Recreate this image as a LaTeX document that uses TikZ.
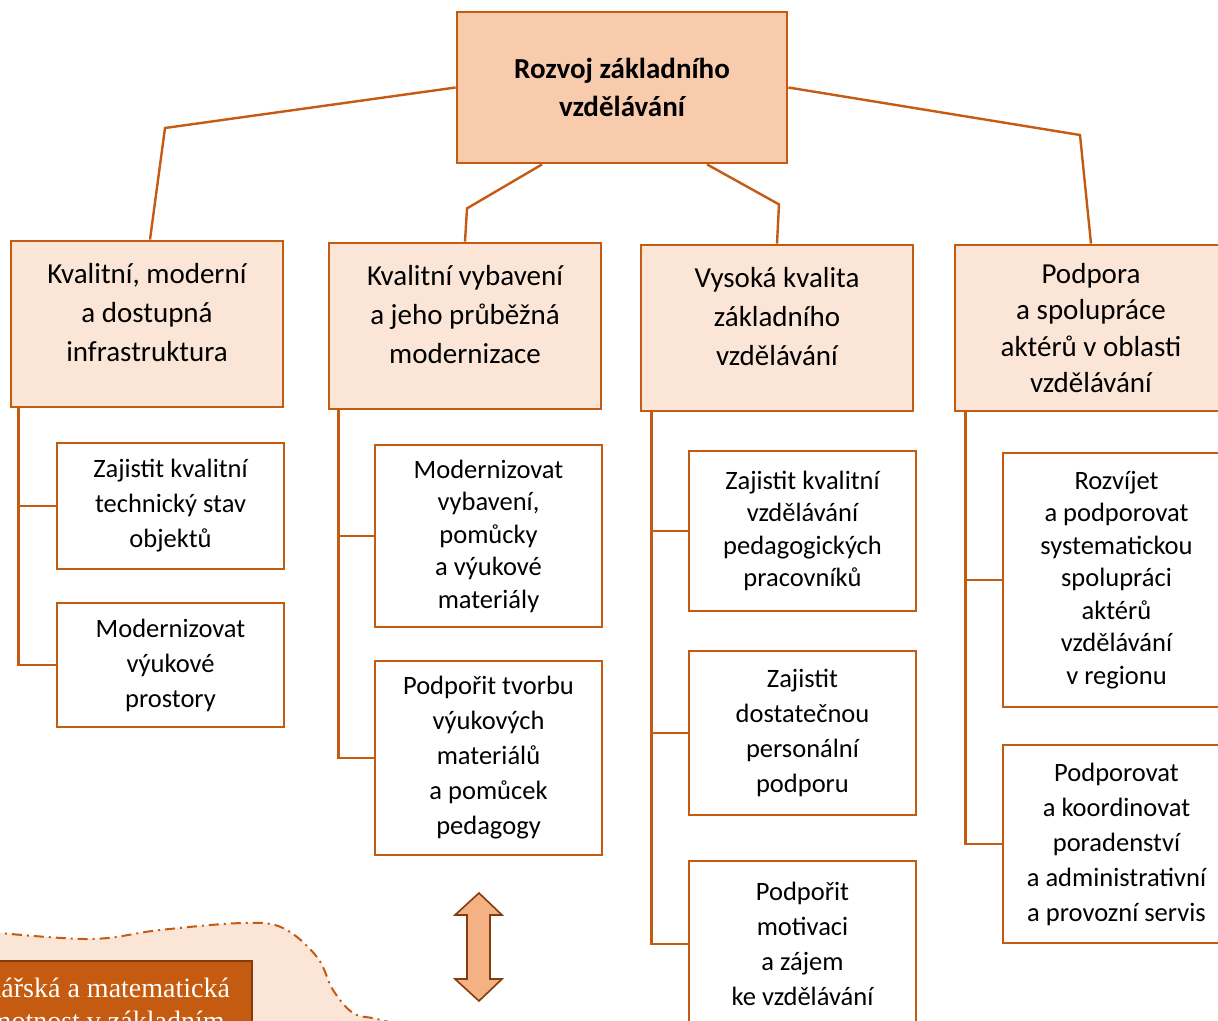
\documentclass[tikz,border=0pt]{standalone}
\usepackage{fontspec}
\setmainfont{Carlito}
\newfontfamily\goalfont{Liberation Serif}
\usetikzlibrary{positioning}
\definecolor{accent}{HTML}{C55A11}
\definecolor{rootc}{HTML}{F8CBAD}
\definecolor{topicc}{HTML}{FBE5D6}
\definecolor{arrowc}{HTML}{F4B183}
\definecolor{darkc}{HTML}{843C0C}

\begin{document}
\begin{tikzpicture}[x=1pt, y=-1pt,
  rootbox/.style={draw=accent, line width=2.8pt, fill=rootc, minimum width=330pt,
                  minimum height=151pt, align=center, font=\bfseries\fontsize{29}{38}\selectfont},
  topic/.style={draw=accent, line width=2.8pt, fill=topicc, minimum width=272pt,
                minimum height=166pt, align=center, font=\fontsize{29}{39}\selectfont},
  task/.style={draw=accent, line width=2.8pt, fill=white, minimum width=227pt,
               align=center, font=\fontsize{26.5}{35}\selectfont},
  tight/.style={font=\fontsize{26.5}{32.5}\selectfont},
  link/.style={draw=accent, line width=2.4pt},
  goalbox/.style={draw=darkc, line width=2pt, fill=accent, text=white, align=center,
                  font=\goalfont\fontsize{28}{33}\selectfont, inner xsep=22pt, inner ysep=12pt}
]
\useasboundingbox (0,0) rectangle (1218,1020);
\clip (0,0) rectangle (1218,1020);

% cloud behind the goal box
\filldraw[fill=topicc, draw=accent, line width=2pt, dash pattern=on 10pt off 5pt on 2pt off 5pt]
  plot[smooth, tension=0.6] coordinates {(-10,932) (90,939) (160,930) (243,923) (283,928)
    (317,957) (333,990) (353,1013) (377,1019) (420,1030)} -- (420,1070) -- (-10,1070) -- cycle;
\node[goalbox, anchor=north east] (gramot) at (253,960)
  {Čtenářská a matematická\\gramotnost v základním\\vzdělávání};

% double arrow
\draw[draw=darkc, fill=arrowc, line width=1.6pt] (479,893) -- (502,915) -- (490,915) -- (490,979)
  -- (502,979) -- (479,1001) -- (455,979) -- (467,979) -- (467,915) -- (455,915) -- cycle;

\node[rootbox] (root) at (622,87.5) {Rozvoj základního\\vzdělávání};

\node[topic] (infra) at (147,324) {Kvalitní, moderní\\a dostupná\\infrastruktura\\[-16pt]\mbox{}};
\node[topic] (vybav) at (465,326) {Kvalitní vybavení\\a jeho průběžná\\modernizace\\[-16pt]\mbox{}};
\node[topic] (kvalita) at (777,328) {Vysoká kvalita\\základního\\vzdělávání\\[-16pt]\mbox{}};
\node[topic, font=\fontsize{29}{36.5}\selectfont] (podpora) at (1091,328)
  {Podpora\\a spolupráce\\aktérů v oblasti\\vzdělávání};

\node[task, minimum height=126pt] (infra1) at (170.5,506) {Zajistit kvalitní\\technický stav\\objektů};
\node[task, minimum height=124pt] (infra2) at (170.5,665) {Modernizovat\\výukové\\prostory};

\node[task, tight, minimum height=182pt] (vybav1) at (488.5,536)
  {Modernizovat\\vybavení,\\pomůcky\\a výukové\\materiály};
\node[task, minimum height=194pt] (vybav2) at (488.5,758)
  {Podpořit tvorbu\\výukových\\materiálů\\a pomůcek\\pedagogy};

\node[task, tight, minimum height=160pt] (kvalita1) at (802.5,531)
  {Zajistit kvalitní\\vzdělávání\\pedagogických\\pracovníků};
\node[task, minimum height=164pt] (kvalita2) at (802.5,733)
  {Zajistit\\dostatečnou\\personální\\podporu};
\node[task, minimum height=166pt] (kvalita3) at (802.5,944)
  {Podpořit\\motivaci\\a zájem\\ke vzdělávání};

\node[task, tight, minimum height=254pt] (podpora1) at (1116.5,580)
  {Rozvíjet\\a podporovat\\systematickou\\spolupráci\\aktérů\\vzdělávání\\v regionu};
\node[task, minimum height=198pt] (podpora2) at (1116.5,844)
  {Podporovat\\a koordinovat\\poradenství\\a administrativní\\a provozní servis};

% root to topics
\draw[link] (root.west) -- (165,128) -- ([xshift=3pt]infra.north);
\draw[link] ([xshift=-80pt]root.south) -- ++(-75,44) -- (vybav.north);
\draw[link] ([xshift=85pt]root.south) -- ++(72,40) -- (kvalita.north);
\draw[link] (root.east) -- (1080,135) -- (podpora.north);

% topics to tasks
\draw[link] ([xshift=9pt]infra.south west) |- (infra1.west);
\draw[link] ([xshift=9pt]infra.south west) |- (infra2.west);
\draw[link] ([xshift=11pt]vybav.south west) |- (vybav1.west);
\draw[link] ([xshift=11pt]vybav.south west) |- (vybav2.west);
\draw[link] ([xshift=12pt]kvalita.south west) |- (kvalita1.west);
\draw[link] ([xshift=12pt]kvalita.south west) |- (kvalita2.west);
\draw[link] ([xshift=12pt]kvalita.south west) |- (kvalita3.west);
\draw[link] ([xshift=12pt]podpora.south west) |- (podpora1.west);
\draw[link] ([xshift=12pt]podpora.south west) |- (podpora2.west);
\end{tikzpicture}
\end{document}
